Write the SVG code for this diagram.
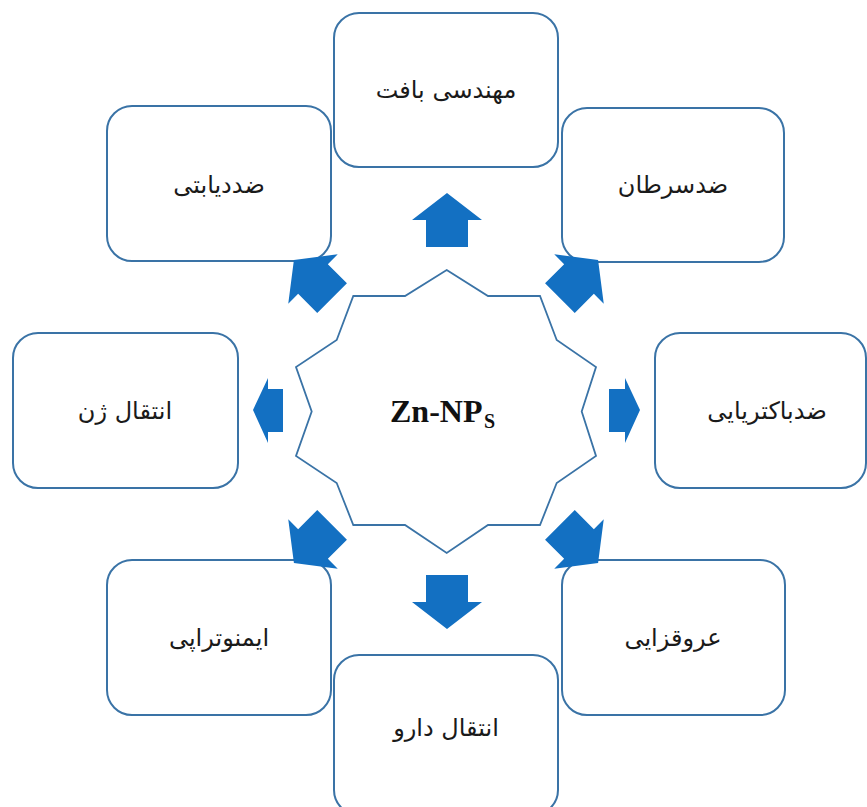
<svg xmlns="http://www.w3.org/2000/svg" width="867" height="807" viewBox="0 0 867 807">
<style>
.box{fill:#fff;stroke:#3A73A6;stroke-width:2}
.lbl{font-family:"DejaVu Sans",sans-serif;font-size:24px;fill:#1a1a1a;text-anchor:middle}
.arr{fill:#1370C2}
.star{fill:#fff;stroke:#3A73A6;stroke-width:1.8;stroke-linejoin:miter}
</style>
<defs>
<path id="ar" d="M0,-27 L35,0 L21,0 L21,27 L-21,27 L-21,0 L-35,0 Z"/>
</defs>
<rect width="867" height="807" fill="#fff"/>
<g id="n-top"><rect class="box" x="334" y="13" width="224" height="154" rx="25"/><text class="lbl" x="446" y="98" direction="rtl">مهندسی بافت</text></g>
<g id="n-tl"><rect class="box" x="107" y="106" width="224" height="155" rx="25"/><text class="lbl" x="219" y="193" direction="rtl">ضددیابتی</text></g>
<g id="n-tr"><rect class="box" x="562" y="108" width="222" height="154" rx="25"/><text class="lbl" x="673" y="193" direction="rtl">ضدسرطان</text></g>
<g id="n-l"><rect class="box" x="13" y="333" width="225" height="155" rx="25"/><text class="lbl" x="125" y="419" direction="rtl">انتقال ژن</text></g>
<g id="n-r"><rect class="box" x="655" y="333" width="211" height="155" rx="25"/><text class="lbl" x="767" y="419" direction="rtl">ضدباکتریایی</text></g>
<g id="n-bl"><rect class="box" x="107" y="560" width="224" height="155" rx="25"/><text class="lbl" x="219" y="646" direction="rtl">ایمنوتراپی</text></g>
<g id="n-br"><rect class="box" x="562" y="560" width="223" height="155" rx="25"/><text class="lbl" x="673" y="646" direction="rtl">عروقزایی</text></g>
<g id="n-b"><rect class="box" x="334" y="655" width="224" height="160" rx="25"/><text class="lbl" x="446" y="736" direction="rtl">انتقال دارو</text></g>
<g id="connectors">
<use href="#ar" class="arr" transform="translate(447,220)"/>
<use href="#ar" class="arr" transform="translate(447,602) rotate(180)"/>
<use href="#ar" class="arr" transform="translate(313,279) rotate(-45)"/>
<use href="#ar" class="arr" transform="translate(579,279) rotate(45)"/>
<use href="#ar" class="arr" transform="translate(313,544) rotate(-135)"/>
<use href="#ar" class="arr" transform="translate(579,544) rotate(135)"/>
<path class="arr" d="M609,389 L625,389 L625,378 L640,410 L625,443 L625,432 L609,432 Z"/>
<path class="arr" d="M283,389 L268,389 L268,378 L253,410 L268,443 L268,432 L283,432 Z"/>
</g>
<g id="n-center">
<polygon class="star" points="446.7,270 488,296 540,296 556.7,340 596,367 581.7,411.5 596,456 556.7,483 540,525 488,525 446.7,553 405,525 353.3,525 336.7,483 296,456 311.7,411.5 296,367 336.7,340 353.3,296 405,296"/>
<text x="390" y="422" font-family="'Liberation Serif',serif" font-weight="bold" font-size="32" fill="#111">Zn-NP<tspan x="484" y="428" font-size="20">S</tspan></text>
</g>
</svg>
